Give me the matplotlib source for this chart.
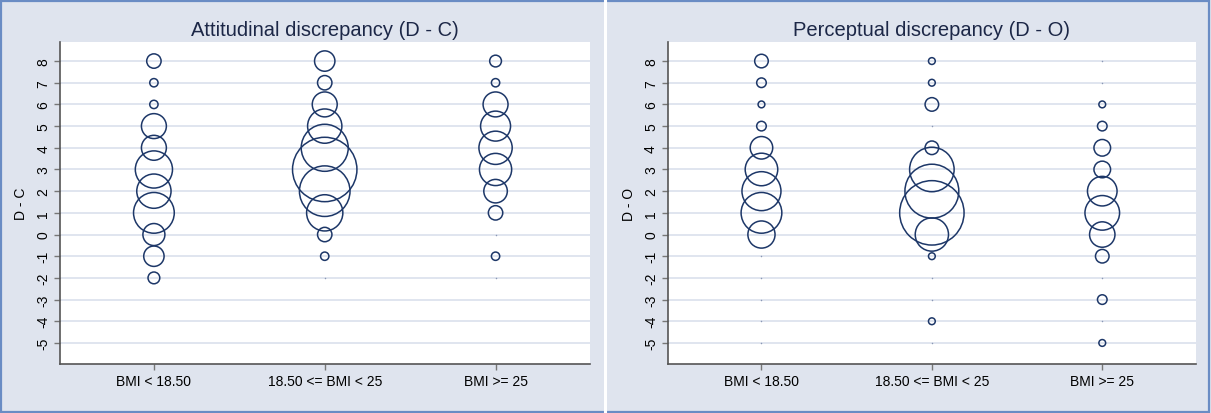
import matplotlib.pyplot as plt
import numpy as np
from matplotlib.patches import Rectangle
from matplotlib.lines import Line2D

plt.rcParams['font.family'] = ['Liberation Sans', 'DejaVu Sans']
plt.rcParams['axes.unicode_minus'] = False

# discrepancy scores shown on the y axis
scores = [8, 7, 6, 5, 4, 3, 2, 1, 0, -1, -2, -3, -4, -5]
groups = ['BMI < 18.50', '18.50 <= BMI < 25', 'BMI >= 25']

# frequencies (0 = tiny dot, nan = nothing drawn)
nan = np.nan
att_under = [3, 1, 1, 9, 9, 20, 17, 24, 7, 6, 2, nan, nan, nan]
att_normal = [6, 3, 9, 17, 32, 60, 37, 19, 3, 1, 0, nan, nan, nan]
att_over = [2, 1, 9, 13, 16, 15, 8, 3, 0, 1, 0, nan, nan, nan]

per_under = [4, 2, 1, 2, 11, 23, 33, 36, 16, 0, 0, 0, 0, 0]
per_normal = [1, 1, 4, 0, 4, 43, 63, 90, 24, 1, 0, 0, 1, 0]
per_over = [0, 0, 1, 2, 6, 6, 19, 26, 14, 4, 0, 2, 0, 1]

bg = '#dfe4ee'
navy = '#1d3768'


def bubble_panel(ax, counts, title, ylabel):
    nmax = np.nanmax([np.nanmax(c) for c in counts])
    smax = 2150.0
    for i, c in enumerate(counts):
        c = np.asarray(c, dtype=float)
        y = np.asarray(scores, dtype=float)
        x = np.full(len(y), i + 1.0)
        big = c > 0
        ax.scatter(x[big], y[big], s=smax * c[big] / nmax,
                   facecolors='none', edgecolors=navy, linewidths=1.1, zorder=3)
        dot = c == 0
        ax.scatter(x[dot], y[dot], s=1.2, color='#8a97b5', linewidths=0, zorder=3)

    ax.set_xlim(0.45, 3.55)
    ax.set_ylim(-5.97, 8.88)
    ax.set_xticks([1, 2, 3])
    ax.set_xticklabels(groups)
    ax.set_yticks(range(-5, 9))
    ax.grid(axis='y', color='#dde3ee', linewidth=1.3, zorder=0)
    ax.set_axisbelow(True)
    for s in ['top', 'right']:
        ax.spines[s].set_visible(False)
    for s in ['left', 'bottom']:
        ax.spines[s].set_color('#555555')
        ax.spines[s].set_linewidth(1.2)
    ax.tick_params(axis='both', length=4, width=1, color='#777777',
                   labelsize=10, pad=3)
    for lab in ax.get_yticklabels():
        lab.set_rotation(90)
        lab.set_va('center')
    ax.set_ylabel(ylabel, fontsize=10, labelpad=6)
    ax.text(0.5, 1.04, title, transform=ax.transAxes, ha='center', va='center',
            fontsize=14.5, color='#1c2747')


fig = plt.figure(figsize=(12.11, 4.14), dpi=100)
fig.patch.set_facecolor(bg)

ax1 = fig.add_axes([0.0495, 0.1184, 0.4373, 0.7778])
ax2 = fig.add_axes([0.5514, 0.1184, 0.4362, 0.7778])

bubble_panel(ax1, [att_under, att_normal, att_over],
             'Attitudinal discrepancy (D - C)', 'D - C')
bubble_panel(ax2, [per_under, per_normal, per_over],
             'Perceptual discrepancy (D - O)', 'D - O')

# outer frame and white divider between the two panels
fig.patches.append(Rectangle((0.001, 0.003), 0.997, 0.993, transform=fig.transFigure,
                             fill=False, edgecolor='#6a8cc4', linewidth=1.6))
fig.lines.append(Line2D([0.4996, 0.4996], [0, 1], transform=fig.transFigure,
                        color='white', linewidth=2.2))

fig.savefig('out.png', dpi=100, facecolor=bg)
